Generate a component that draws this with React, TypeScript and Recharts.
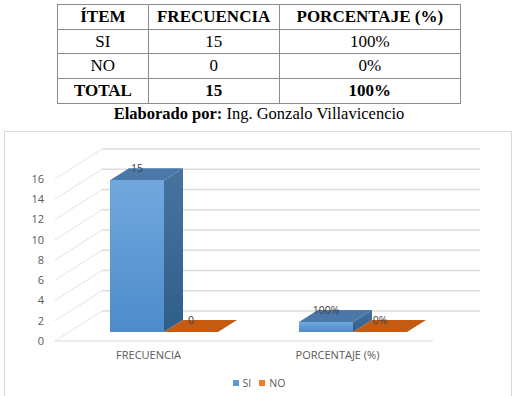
import React from "react";
import { BarChart, Bar, XAxis, YAxis, CartesianGrid, Legend, LabelList } from "recharts";

const categories = ["FRECUENCIA", "PORCENTAJE (%)"];
const siValues = [15, 1];
const noValues = [0, 0];
const siLabels = ["15", "100%"];
const noLabels = ["0", "0%"];
const yTicks = [0, 2, 4, 6, 8, 10, 12, 14, 16];

const tableHeader = ["ÍTEM", "FRECUENCIA", "PORCENTAJE (%)"];
const tableRows = [
  ["SI", "15", "100%"],
  ["NO", "0", "0%"],
];
const tableTotal = ["TOTAL", "15", "100%"];

const data = categories.map((c, i) => ({ name: c, SI: siValues[i], NO: noValues[i] }));

const DX = 19;
const DY = -12;
const FRONT_DX = -14;
const FRONT_DY = 9;
const BACK_DX = 33;
const BACK_DY = -21;

const makeShape = (front: string, side: string, top: string) => (props: any) => {
  const { x, y, width, height } = props;
  const h = Math.max(0, height || 0);
  return (
    <g>
      {h > 0 && <rect x={x} y={y} width={width} height={h} fill={front} />}
      {h > 0 && (
        <polygon
          points={`${x + width},${y} ${x + width + DX},${y + DY} ${x + width + DX},${y + h + DY} ${x + width},${y + h}`}
          fill={side}
        />
      )}
      <polygon
        points={`${x},${y} ${x + DX},${y + DY} ${x + width + DX},${y + DY} ${x + width},${y}`}
        fill={top}
      />
    </g>
  );
};

const gridLine = (props: any) => {
  const { x1, x2, y1, index, offset } = props;
  const y = y1;
  const bottom = offset ? offset.top + offset.height : 332;
  const isFloor = Math.abs(y - bottom) < 1;
  return (
    <g key={`g-${index}-${y}`}>
      <line x1={x1 + FRONT_DX} y1={y + FRONT_DY} x2={x1 + BACK_DX} y2={y + BACK_DY} stroke="#e3e3e3" strokeWidth={1} />
      <line x1={x1 + BACK_DX} y1={y + BACK_DY} x2={x2 + BACK_DX} y2={y + BACK_DY} stroke="#dcdcdc" strokeWidth={1.5} />
      {isFloor && (
        <line x1={x1 + FRONT_DX} y1={y + FRONT_DY} x2={x2 + FRONT_DX} y2={y + FRONT_DY} stroke="#d9d9d9" strokeWidth={1.2} />
      )}
    </g>
  );
};

const YTick = (props: any) => {
  const { x, y, payload } = props;
  return (
    <text x={x - 17} y={y + FRONT_DY} dy="0.35em" textAnchor="end" fontSize={11} fill="#595959" fontFamily="Open Sans">
      {payload.value}
    </text>
  );
};

const XTick = (props: any) => {
  const { x, y, payload } = props;
  return (
    <text x={x - 15} y={y + 11} dy="0.71em" textAnchor="middle" fontSize={11} fill="#595959" fontFamily="Open Sans">
      {payload.value}
    </text>
  );
};

const makeLabel = (labels: string[]) => (props: any) => {
  const { x, y, width, index } = props;
  return (
    <text x={x + width / 2} y={y - 12} dy="0.35em" textAnchor="middle" fontSize={10.5} fill="#404040" fontFamily="Open Sans">
      {labels[index]}
    </text>
  );
};

const LegendContent = () => (
  <div style={{ display: "flex", justifyContent: "center", alignItems: "center", fontFamily: "Open Sans", fontSize: 10.5, color: "#595959", paddingLeft: 0 }}>
    <span style={{ display: "inline-block", width: 6, height: 6, background: "#5b9bd5", marginRight: 4 }} />
    <span style={{ marginRight: 8 }}>SI</span>
    <span style={{ display: "inline-block", width: 6, height: 6, background: "#ed7d31", marginRight: 4 }} />
    <span>NO</span>
  </div>
);

const cell: React.CSSProperties = {
  border: "1.5px solid #8c8c8c",
  textAlign: "center",
  padding: 0,
  height: 23.7,
  lineHeight: "23.7px",
};

export default function App() {
  return (
    <div style={{ position: "absolute", left: 0, top: 0, width: 518, height: 396, background: "#fff", overflow: "hidden" }}>
      <table
        style={{
          position: "absolute",
          left: 57,
          top: 4,
          width: 404,
          borderCollapse: "collapse",
          fontFamily: "Liberation Serif",
          fontSize: 17,
          color: "#000",
        }}
      >
        <colgroup>
          <col style={{ width: 91 }} />
          <col style={{ width: 131 }} />
          <col style={{ width: 182 }} />
        </colgroup>
        <tbody>
          <tr>
            {tableHeader.map((h) => (
              <td key={h} style={{ ...cell, fontWeight: "bold" }}>{h}</td>
            ))}
          </tr>
          {tableRows.map((r) => (
            <tr key={r[0]}>
              {r.map((v, i) => (
                <td key={i} style={cell}>{v}</td>
              ))}
            </tr>
          ))}
          <tr>
            {tableTotal.map((v, i) => (
              <td key={i} style={{ ...cell, fontWeight: "bold" }}>{v}</td>
            ))}
          </tr>
        </tbody>
      </table>
      <div
        style={{
          position: "absolute",
          left: 0,
          top: 104,
          width: 518,
          textAlign: "center",
          fontFamily: "Liberation Serif",
          fontSize: 16.5,
          color: "#000",
        }}
      >
        <b>Elaborado por:</b> Ing. Gonzalo Villavicencio
      </div>
      <div
        style={{
          position: "absolute",
          left: 4,
          top: 131,
          width: 508,
          height: 300,
          border: "1px solid #d9d9d9",
          boxSizing: "border-box",
        }}
      />
      <div style={{ position: "absolute", left: 0, top: 0 }}>
        <BarChart
          width={518}
          height={396}
          data={data}
          margin={{ top: 170, right: 71, bottom: 22, left: 19 }}
          barGap={0}
          barSize={54}
        >
          <defs>
            <linearGradient id="siFront" x1="0" y1="0" x2="0" y2="1">
              <stop offset="0%" stopColor="#72a8de" />
              <stop offset="100%" stopColor="#4d8bcb" />
            </linearGradient>
            <linearGradient id="siSide" x1="0" y1="0" x2="0" y2="1">
              <stop offset="0%" stopColor="#47739f" />
              <stop offset="100%" stopColor="#305e8a" />
            </linearGradient>
          </defs>
          <CartesianGrid horizontal={gridLine as any} vertical={false} />
          <YAxis width={50} domain={[0, 16]} ticks={yTicks} axisLine={false} tickLine={false} tick={<YTick />} interval={0} />
          <XAxis dataKey="name" height={30} axisLine={false} tickLine={false} tick={<XTick />} interval={0} />
          <Legend content={<LegendContent />} wrapperStyle={{ position: "absolute", top: 376, left: 0, width: 518, height: 12 }} />
          <Bar dataKey="SI" name="SI" fill="#5b9bd5" isAnimationActive={false} shape={makeShape("url(#siFront)", "url(#siSide)", "#4a78a9")}>
            <LabelList dataKey="SI" content={makeLabel(siLabels)} />
          </Bar>
          <Bar dataKey="NO" name="NO" fill="#ed7d31" isAnimationActive={false} shape={makeShape("#ed7d31", "#a94c12", "#c55a11")}>
            <LabelList dataKey="NO" content={makeLabel(noLabels)} />
          </Bar>
        </BarChart>
      </div>
    </div>
  );
}
